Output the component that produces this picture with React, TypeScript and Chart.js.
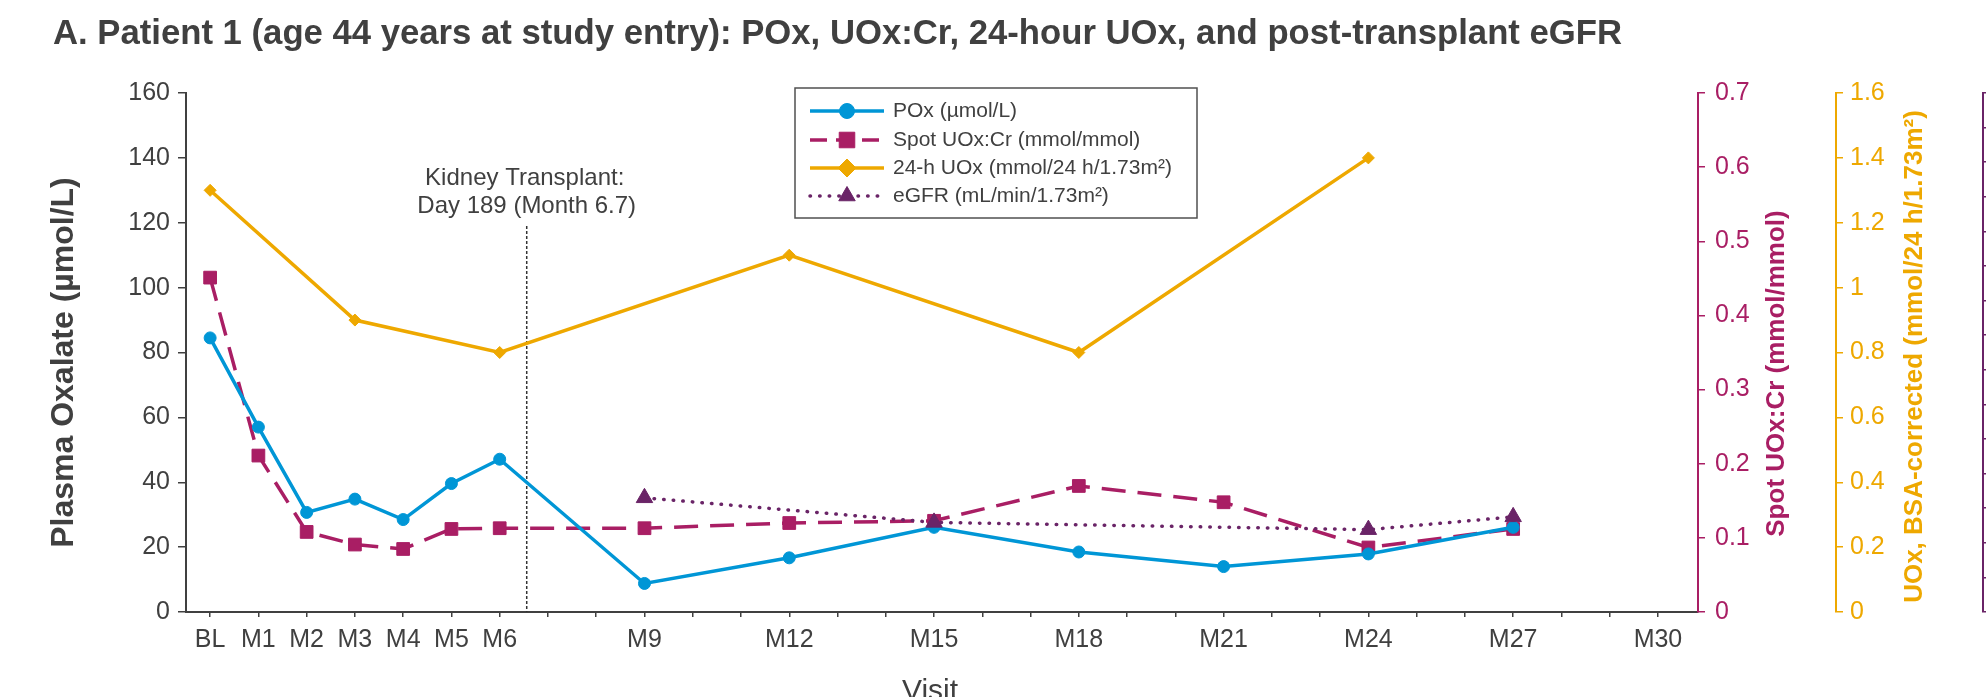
import React, { useEffect, useRef } from 'react';
import { Chart, registerables } from 'chart.js';

Chart.register(...registerables);

const FONT = "'Liberation Sans', Arial, Helvetica, sans-serif";
const TEXT = '#404040';
const BLUE = '#0096D6';
const MAGENTA = '#A91E64';
const GOLD = '#EEA800';
const PURPLE = '#6A2467';

const TITLE = 'A. Patient 1 (age 44 years at study entry): POx, UOx:Cr, 24-hour UOx, and post-transplant eGFR';
const Y_LEFT_TITLE = 'Plasma Oxalate (µmol/L)';
const Y_SPOT_TITLE = 'Spot UOx:Cr (mmol/mmol)';
const Y_GOLD_TITLE = 'UOx, BSA-corrected (mmol/24 h/1.73m²)';
const X_TITLE = 'Visit';
const TRANSPLANT_LINES = ['Kidney Transplant:', 'Day 189 (Month 6.7)'];
const TRANSPLANT_MONTH = 6.56;

const XTICK_VALUES = [0, 1, 2, 3, 4, 5, 6, 9, 12, 15, 18, 21, 24, 27, 30];
const XTICK_LABELS = ['BL', 'M1', 'M2', 'M3', 'M4', 'M5', 'M6', 'M9', 'M12', 'M15', 'M18', 'M21', 'M24', 'M27', 'M30'];
const X_MIN = -0.5;
const X_MAX = 30.83;
const X_LAST_MONTH = 30;

const POX_MONTHS = [0, 1, 2, 3, 4, 5, 6, 9, 12, 15, 18, 21, 24, 27];
const POX_VALUES = [84.5, 57, 30.7, 34.8, 28.5, 39.6, 47.1, 8.8, 16.7, 26.1, 18.5, 14, 17.9, 26.1];

const SPOT_MONTHS = [0, 1, 2, 3, 4, 5, 6, 9, 12, 15, 18, 21, 24, 27];
const SPOT_VALUES = [0.451, 0.211, 0.108, 0.091, 0.085, 0.112, 0.113, 0.113, 0.12, 0.123, 0.17, 0.148, 0.087, 0.112];

const UOX24_MONTHS = [0, 3, 6, 12, 18, 24];
const UOX24_VALUES = [1.3, 0.9, 0.8, 1.1, 0.8, 1.4];

const EGFR_MONTHS = [9, 15, 24, 27];
const EGFR_VALUES = [33, 25.9, 23.8, 27.5];

const LABEL_POX = 'POx (µmol/L)';
const LABEL_SPOT = 'Spot UOx:Cr (mmol/mmol)';
const LABEL_UOX24 = '24-h UOx (mmol/24 h/1.73m²)';
const LABEL_EGFR = 'eGFR (mL/min/1.73m²)';

const toXY = (xs: number[], ys: number[]) => xs.map((x, i) => ({ x, y: ys[i] }));
const fmt = (v: number) => String(Number(Number(v).toFixed(2)));

function drawMarker(ctx: CanvasRenderingContext2D, style: string, x: number, y: number, r: number, color: string) {
  ctx.save();
  ctx.setLineDash([]);
  ctx.fillStyle = color;
  ctx.strokeStyle = color;
  ctx.lineWidth = 1;
  ctx.beginPath();
  if (style === 'circle') {
    ctx.arc(x, y, r, 0, Math.PI * 2);
  } else if (style === 'rect') {
    const s = r * Math.SQRT1_2;
    ctx.rect(x - s, y - s, 2 * s, 2 * s);
  } else if (style === 'rectRot') {
    ctx.moveTo(x - r, y);
    ctx.lineTo(x, y - r);
    ctx.lineTo(x + r, y);
    ctx.lineTo(x, y + r);
    ctx.closePath();
  } else if (style === 'triangle') {
    ctx.moveTo(x, y - r);
    ctx.lineTo(x + 0.866 * r, y + 0.5 * r);
    ctx.lineTo(x - 0.866 * r, y + 0.5 * r);
    ctx.closePath();
  }
  ctx.fill();
  ctx.stroke();
  ctx.restore();
}

function drawRotated(ctx: CanvasRenderingContext2D, text: string, bx: number, cy: number, font: string, color: string) {
  ctx.save();
  ctx.translate(bx, cy);
  ctx.rotate(-Math.PI / 2);
  ctx.font = font;
  ctx.fillStyle = color;
  ctx.textAlign = 'center';
  ctx.textBaseline = 'alphabetic';
  ctx.fillText(text, 0, 0);
  ctx.restore();
}

const transplantLinePlugin = {
  id: 'transplantLine',
  beforeDatasetsDraw(chart: any) {
    const ctx = chart.ctx as CanvasRenderingContext2D;
    const tx = chart.scales.x.getPixelForValue(TRANSPLANT_MONTH);
    ctx.save();
    ctx.strokeStyle = '#333333';
    ctx.lineWidth = 1.5;
    ctx.setLineDash([3, 2]);
    ctx.beginPath();
    ctx.moveTo(tx, 226);
    ctx.lineTo(tx, chart.chartArea.bottom);
    ctx.stroke();
    ctx.restore();
  },
};

const overlayPlugin = {
  id: 'overlay',
  afterDraw(chart: any) {
    const ctx = chart.ctx as CanvasRenderingContext2D;
    const area = chart.chartArea;
    ctx.save();

    ctx.font = `bold 34.7px ${FONT}`;
    ctx.fillStyle = TEXT;
    ctx.textAlign = 'left';
    ctx.textBaseline = 'alphabetic';
    ctx.fillText(TITLE, 53, 44);

    const cy = (area.top + area.bottom) / 2;
    drawRotated(ctx, Y_LEFT_TITLE, 73, cy + 10, `bold 32px ${FONT}`, TEXT);
    drawRotated(ctx, Y_SPOT_TITLE, 1784, cy + 21, `bold 26px ${FONT}`, MAGENTA);
    drawRotated(ctx, Y_GOLD_TITLE, 1922, cy + 4, `bold 26px ${FONT}`, GOLD);

    ctx.font = `30px ${FONT}`;
    ctx.fillStyle = TEXT;
    ctx.textAlign = 'center';
    ctx.fillText(X_TITLE, 930, 700);

    const tx = chart.scales.x.getPixelForValue(TRANSPLANT_MONTH);
    ctx.font = `24px ${FONT}`;
    ctx.fillText(TRANSPLANT_LINES[0], tx - 2, 185);
    ctx.fillText(TRANSPLANT_LINES[1], tx, 213);

    const lx = 795, ly = 88, lw = 402, lh = 130;
    ctx.fillStyle = '#ffffff';
    ctx.fillRect(lx, ly, lw, lh);
    ctx.strokeStyle = '#505050';
    ctx.lineWidth = 1.5;
    ctx.setLineDash([]);
    ctx.strokeRect(lx, ly, lw, lh);

    const order = [0, 1, 2, 3];
    const baselines = [117, 146, 174, 202];
    const legendRadius: Record<string, number> = { circle: 7.5, rect: 11, rectRot: 9, triangle: 9.5 };
    const legendDash: Record<number, number[]> = { 1: [17, 9] };
    order.forEach((di, i) => {
      const ds = chart.data.datasets[di];
      const yc = baselines[i] - 6;
      ctx.save();
      ctx.strokeStyle = ds.borderColor;
      ctx.lineWidth = ds.borderWidth;
      ctx.lineCap = ds.borderCapStyle || 'butt';
      ctx.setLineDash(legendDash[di] || ds.borderDash || []);
      ctx.beginPath();
      ctx.moveTo(810, yc);
      ctx.lineTo(884, yc);
      ctx.stroke();
      ctx.restore();
      drawMarker(ctx, ds.pointStyle, 847, yc, legendRadius[ds.pointStyle], ds.borderColor);
      ctx.font = `21px ${FONT}`;
      ctx.fillStyle = TEXT;
      ctx.textAlign = 'left';
      ctx.textBaseline = 'alphabetic';
      ctx.fillText(ds.label, 893, baselines[i]);
    });

    ctx.restore();
  },
};

export default function App() {
  const canvasRef = useRef<HTMLCanvasElement | null>(null);

  useEffect(() => {
    const canvas = canvasRef.current;
    if (!canvas) return;

    const tickFont = { family: FONT, size: 25 };

    const chart = new Chart(canvas, {
      type: 'line',
      data: {
        datasets: [
          {
            label: LABEL_POX,
            data: toXY(POX_MONTHS, POX_VALUES),
            yAxisID: 'y',
            borderColor: BLUE,
            backgroundColor: BLUE,
            borderWidth: 3.5,
            pointStyle: 'circle',
            pointRadius: 6,
            pointBorderWidth: 1,
            order: 1,
          },
          {
            label: LABEL_SPOT,
            data: toXY(SPOT_MONTHS, SPOT_VALUES),
            yAxisID: 'ySpot',
            borderColor: MAGENTA,
            backgroundColor: MAGENTA,
            borderWidth: 3.5,
            borderDash: [24, 12],
            pointStyle: 'rect',
            pointRadius: 9,
            pointBorderWidth: 1,
            order: 2,
          },
          {
            label: LABEL_UOX24,
            data: toXY(UOX24_MONTHS, UOX24_VALUES),
            yAxisID: 'yGold',
            borderColor: GOLD,
            backgroundColor: GOLD,
            borderWidth: 3.5,
            pointStyle: 'rectRot',
            pointRadius: 6,
            pointBorderWidth: 1,
            order: 3,
          },
          {
            label: LABEL_EGFR,
            data: toXY(EGFR_MONTHS, EGFR_VALUES),
            yAxisID: 'yEgfr',
            borderColor: PURPLE,
            backgroundColor: PURPLE,
            borderWidth: 3.5,
            borderDash: [0.5, 9.1],
            borderCapStyle: 'round',
            pointStyle: 'triangle',
            pointRadius: 9.5,
            pointBorderWidth: 1,
            order: 0,
          },
        ] as any,
      },
      options: {
        responsive: false,
        animation: false,
        devicePixelRatio: 1,
        layout: { padding: { top: 93, left: 0, right: 0, bottom: 0 } },
        plugins: {
          legend: { display: false },
          tooltip: { enabled: false },
          title: { display: false },
        },
        elements: { line: { tension: 0 } },
        scales: {
          x: {
            type: 'linear',
            position: 'bottom',
            min: X_MIN,
            max: X_MAX,
            afterBuildTicks: (scale: any) => {
              scale.ticks = Array.from({ length: X_LAST_MONTH + 1 }, (_, i) => ({ value: i }));
            },
            afterFit: (scale: any) => {
              scale.height = 85;
            },
            ticks: {
              autoSkip: false,
              maxRotation: 0,
              minRotation: 0,
              padding: 8,
              color: TEXT,
              font: tickFont,
              callback: (v: any) => {
                const idx = XTICK_VALUES.indexOf(Number(v));
                return idx >= 0 ? XTICK_LABELS[idx] : '';
              },
            },
            grid: { drawOnChartArea: false, drawTicks: true, tickLength: 5, color: TEXT, lineWidth: 1.5 },
            border: { color: TEXT, width: 2 },
          },
          y: {
            type: 'linear',
            position: 'left',
            min: 0,
            max: 160,
            afterFit: (scale: any) => {
              scale.width = 186;
            },
            ticks: { stepSize: 20, padding: 8, color: TEXT, font: tickFont, callback: (v: any) => fmt(v) },
            grid: { drawOnChartArea: false, drawTicks: true, tickLength: 8, color: TEXT, lineWidth: 1.5 },
            border: { color: TEXT, width: 2 },
          },
          ySpot: {
            type: 'linear',
            position: 'right',
            weight: 1,
            min: 0,
            max: 0.7,
            afterFit: (scale: any) => {
              scale.width = 138;
            },
            ticks: { stepSize: 0.1, padding: 10, color: MAGENTA, font: tickFont, callback: (v: any) => fmt(v) },
            grid: { drawOnChartArea: false, drawTicks: true, tickLength: 7, color: MAGENTA, lineWidth: 1.5 },
            border: { color: MAGENTA, width: 2 },
          },
          yGold: {
            type: 'linear',
            position: 'right',
            weight: 2,
            min: 0,
            max: 1.6,
            afterFit: (scale: any) => {
              scale.width = 147;
            },
            ticks: { stepSize: 0.2, padding: 7, color: GOLD, font: tickFont, callback: (v: any) => fmt(v) },
            grid: { drawOnChartArea: false, drawTicks: true, tickLength: 7, color: GOLD, lineWidth: 1.5 },
            border: { color: GOLD, width: 2 },
          },
          yEgfr: {
            type: 'linear',
            position: 'right',
            weight: 3,
            min: 0,
            max: 150,
            afterFit: (scale: any) => {
              scale.width = 3;
            },
            ticks: { stepSize: 10, padding: 6, color: PURPLE, font: tickFont, callback: (v: any) => fmt(v) },
            grid: { drawOnChartArea: false, drawTicks: true, tickLength: 8, color: PURPLE, lineWidth: 1.5 },
            border: { color: PURPLE, width: 2 },
          },
        },
      } as any,
      plugins: [transplantLinePlugin, overlayPlugin],
    });

    return () => {
      chart.destroy();
    };
  }, []);

  return (
    <div style={{ position: 'fixed', left: 0, top: 0, width: 1986, height: 697, background: '#ffffff', overflow: 'hidden' }}>
      <canvas ref={canvasRef} width={1986} height={697} style={{ width: 1986, height: 697, display: 'block' }} />
    </div>
  );
}
